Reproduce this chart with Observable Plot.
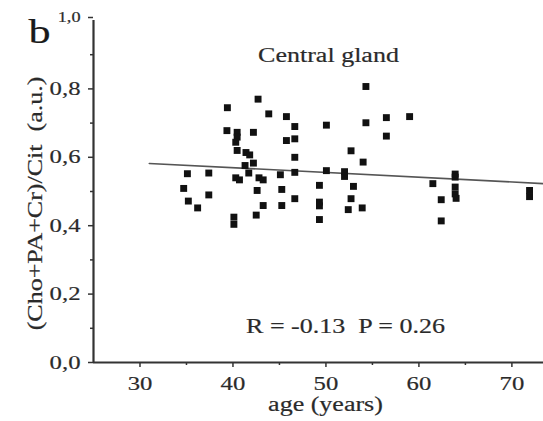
<!DOCTYPE html>
<html>
<head>
<meta charset="utf-8">
<script src="https://cdn.jsdelivr.net/npm/d3@7"></script>
<script src="https://cdn.jsdelivr.net/npm/@observablehq/plot@0.6"></script>
<style>
  html, body { margin: 0; padding: 0; background: white; }
  #chart { width: 543px; height: 421px; overflow: hidden; }
  #chart svg text { stroke: #3a3a3a; stroke-width: 0.2px; paint-order: stroke; }
</style>
</head>
<body>
<div id="chart"></div>
<script>
// ---- data ----
const ages = [35.1, 34.7, 35.2, 36.2, 37.4, 37.4, 39.4, 39.35, 40.45, 40.45, 40.3, 40.45, 41.4, 41.8,
  40.3, 40.7, 40.1, 40.1, 42.7, 42.2, 42.2, 41.3, 41.7, 42.8, 43.25, 42.6, 43.25, 42.5,
  43.85, 45.75, 46.65, 45.75, 46.65, 46.65, 46.65, 45.1, 45.25, 45.25, 46.65,
  50.05, 50.05, 49.3, 49.3, 49.3, 49.3,
  54.3, 54.3, 52.7, 54.0, 52.0, 52.0, 52.96, 52.7, 52.4, 53.9,
  56.5, 59.0, 56.5, 61.5, 63.9, 63.9, 63.9, 63.9, 64.0, 62.4, 62.4, 71.9, 71.9];
const ratios = [0.552, 0.509, 0.472, 0.452, 0.554, 0.490, 0.745, 0.678, 0.673, 0.659, 0.644, 0.620, 0.614, 0.607,
  0.540, 0.534, 0.425, 0.404, 0.770, 0.673, 0.583, 0.576, 0.554, 0.540, 0.534, 0.503, 0.459, 0.431,
  0.727, 0.719, 0.690, 0.649, 0.654, 0.600, 0.556, 0.549, 0.506, 0.459, 0.479,
  0.694, 0.561, 0.518, 0.469, 0.458, 0.418,
  0.807, 0.701, 0.619, 0.586, 0.558, 0.544, 0.515, 0.479, 0.447, 0.452,
  0.716, 0.719, 0.662, 0.523, 0.551, 0.542, 0.513, 0.493, 0.480, 0.476, 0.414, 0.503, 0.485];
const fitAges = [31, 73.4];
const fitValues = [0.582, 0.523];
const xTicks = [30, 40, 50, 60, 70];
const xMinorTicks = [35, 45, 55, 65];
const yTicks = [0.0, 0.2, 0.4, 0.6, 0.8];
const yTopTick = [1.0];
const yMinorTicks = [0.1, 0.3, 0.5, 0.7, 0.9];
const panelLetter = "b";
const title = "Central gland";
const statsText = "R = -0.13  P = 0.26";
const xLabel = "age (years)";
const yLabel = "(Cho+PA+Cr)/Cit  (a.u.)";

const points = ages.map((a, i) => ({age: a, ratio: ratios[i]}));
const fit = fitAges.map((a, i) => ({age: a, ratio: fitValues[i]}));
const commaFmt = d => d.toFixed(1).replace(".", ",");

const axisColor = "#333";
const textColor = "#2a2a2a";

const chart = Plot.plot({
  width: 543,
  height: 421,
  marginLeft: 93,
  marginRight: 0,
  marginTop: 20,
  marginBottom: 59,
  style: {fontFamily: "'Liberation Serif', 'Times New Roman', serif", fontSize: "19px", color: textColor, background: "white"},
  x: {domain: [25, 73.4]},
  y: {domain: [0, 1]},
  marks: [
    Plot.axisX(xTicks, {tickSize: 5, tickPadding: 9, tickFormat: d => String(d), stroke: axisColor, strokeWidth: 1.5, label: null, fill: textColor}),
    Plot.axisX(xMinorTicks, {tickSize: 3, tickFormat: () => "", stroke: axisColor, strokeWidth: 1.5, label: null}),
    Plot.axisY(yTicks, {tickSize: 5, tickPadding: 8, tickFormat: commaFmt, stroke: axisColor, strokeWidth: 1.5, label: null, fill: textColor}),
    Plot.axisY(yTopTick, {tickSize: 5, tickPadding: 8, tickFormat: commaFmt, stroke: axisColor, strokeWidth: 1.5, label: null, fill: textColor, fontSize: 14, dy: -3}),
    Plot.axisY(yMinorTicks, {tickSize: 3, tickFormat: () => "", stroke: axisColor, strokeWidth: 1.5, label: null}),
    Plot.ruleY([0], {stroke: axisColor, strokeWidth: 2.2}),
    Plot.ruleX([25], {stroke: axisColor, strokeWidth: 2.2}),
    Plot.line(fit, {x: "age", y: "ratio", stroke: "#555", strokeWidth: 1.6}),
    Plot.dot(points, {x: "age", y: "ratio", symbol: "square", r: 3.9, fill: "#111", stroke: "none"}),
    Plot.text([title], {frameAnchor: "top", dx: 10, dy: 27, fontSize: 20, fill: textColor}),
    Plot.text([statsText], {frameAnchor: "bottom", dx: 27, dy: -30, fontSize: 20, fill: textColor}),
    Plot.text([xLabel], {frameAnchor: "bottom", dx: 7, dy: 48, fontSize: 20, fill: textColor}),
    Plot.text([yLabel], {frameAnchor: "left", textAnchor: "middle", lineAnchor: "middle", dx: -58, dy: 12, rotate: -90, fontSize: 20, fill: textColor}),
    Plot.text([panelLetter], {frameAnchor: "top-left", dx: -65, dy: -2, lineAnchor: "top", textAnchor: "start", fontSize: 34, fill: "#1a1a1a"})
  ]
});

document.getElementById("chart").appendChild(chart);

// widen glyphs to match the reference's broad serif lettering
const stretch = 1.3;
chart.querySelectorAll("text").forEach(t => {
  const len = t.getComputedTextLength();
  if (len > 0) {
    t.setAttribute("textLength", (len * stretch).toFixed(1));
    t.setAttribute("lengthAdjust", "spacingAndGlyphs");
  }
});
</script>
</body>
</html>
